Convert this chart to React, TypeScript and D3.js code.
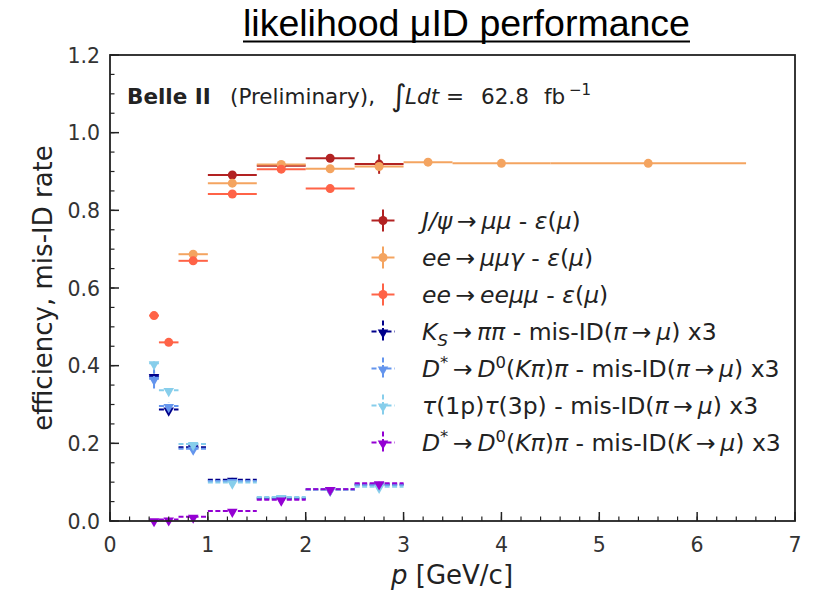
import React from "react";
import * as d3 from "d3";

// ---------- data ----------
const xTicks = [0, 1, 2, 3, 4, 5, 6, 7];
const yTicks = [0.0, 0.2, 0.4, 0.6, 0.8, 1.0, 1.2];

// bins (low, high) in GeV/c
const binLo = [0.4, 0.5, 0.7, 1.0, 1.5, 2.0, 2.5, 3.0, 3.5, 4.5];
const binHi = [0.5, 0.7, 1.0, 1.5, 2.0, 2.5, 3.0, 3.5, 4.5, 6.5];
const binMid = [0.45, 0.6, 0.85, 1.25, 1.75, 2.25, 2.75, 3.25, 4.0, 5.5];

// J/psi -> mu mu efficiency (bins 3..6)
const jpsiBins = [3, 4, 5, 6];
const jpsiY = [0.891, 0.915, 0.934, 0.919];
const jpsiErr = [0.008, 0.006, 0.006, 0.025];

// ee -> mu mu gamma efficiency (bins 2..9)
const mmgBins = [2, 3, 4, 5, 6, 7, 8, 9];
const mmgY = [0.687, 0.87, 0.918, 0.907, 0.913, 0.924, 0.921, 0.921];
const mmgErr = [0.004, 0.003, 0.003, 0.003, 0.003, 0.002, 0.002, 0.002];

// ee -> ee mu mu efficiency (bins 0..5)
const eemmBins = [0, 1, 2, 3, 4, 5];
const eemmY = [0.529, 0.46, 0.67, 0.842, 0.906, 0.856];
const eemmErr = [0.006, 0.005, 0.006, 0.004, 0.004, 0.006];

// mis-ID x3 series (bins 0..6)
const misBins = [0, 1, 2, 3, 4, 5, 6];
const ksY = [0.373, 0.287, 0.19, 0.106, 0.058, 0.081, 0.094];
const ksErr = [0.012, 0.008, 0.006, 0.005, 0.004, 0.004, 0.005];
const dpiY = [0.366, 0.296, 0.186, 0.103, 0.06, 0.082, 0.093];
const dpiErr = [0.025, 0.01, 0.008, 0.005, 0.004, 0.004, 0.005];
const tauY = [0.406, 0.337, 0.198, 0.099, 0.062, 0.08, 0.088];
const tauErr = [0.005, 0.005, 0.005, 0.004, 0.004, 0.004, 0.005];
const dkY = [0.002, 0.004, 0.011, 0.026, 0.055, 0.082, 0.097];
const dkErr = [0.002, 0.002, 0.002, 0.002, 0.003, 0.003, 0.004];

type Seg = [string, string?];
const AR = "\u2009→\u2009";
const legendLabels: Seg[][] = [
  [["J/ψ", "i"], [AR], ["μμ", "i"], [" - "], ["ε", "i"], ["("], ["μ", "i"], [")"]],
  [["ee", "i"], [AR], ["μμγ", "i"], [" - "], ["ε", "i"], ["("], ["μ", "i"], [")"]],
  [["ee", "i"], [AR], ["eeμμ", "i"], [" - "], ["ε", "i"], ["("], ["μ", "i"], [")"]],
  [["K", "i"], ["S", "sub"], [AR], ["ππ", "i"], [" - mis-ID("], ["π", "i"], [AR], ["μ", "i"], [") x3"]],
  [["D", "i"], ["*", "sup"], [AR], ["D", "i"], ["0", "sup"], ["("], ["Kπ", "i"], [")"], ["π", "i"], [" - mis-ID("], ["π", "i"], [AR], ["μ", "i"], [") x3"]],
  [["τ", "i"], ["(1p)"], ["τ", "i"], ["(3p) - mis-ID("], ["π", "i"], [AR], ["μ", "i"], [") x3"]],
  [["D", "i"], ["*", "sup"], [AR], ["D", "i"], ["0", "sup"], ["("], ["Kπ", "i"], [")"], ["π", "i"], [" - mis-ID("], ["K", "i"], [AR], ["μ", "i"], [") x3"]],
];

const seriesColors = ["#b22222", "#f4a460", "#ff6347", "#00008b", "#6495ed", "#87ceeb", "#9400d3"];

// ---------- layout ----------
const W = 818, H = 591;
const x = d3.scaleLinear().domain([0, 7]).range([110, 795]);
const y = d3.scaleLinear().domain([0, 1.2]).range([521, 55]);
const FONT = "DejaVu Sans";

type Pt = { mid: number; lo: number; hi: number; v: number; e: number };
const mk = (bins: number[], ys: number[], es: number[]): Pt[] =>
  bins.map((b, i) => ({ mid: binMid[b], lo: binLo[b], hi: binHi[b], v: ys[i], e: es[i] }));

const series = [
  { pts: mk(jpsiBins, jpsiY, jpsiErr), dashed: false },
  { pts: mk(mmgBins, mmgY, mmgErr), dashed: false },
  { pts: mk(eemmBins, eemmY, eemmErr), dashed: false },
  { pts: mk(misBins, ksY, ksErr), dashed: true },
  { pts: mk(misBins, dpiY, dpiErr), dashed: true },
  { pts: mk(misBins, tauY, tauErr), dashed: true },
  { pts: mk(misBins, dkY, dkErr), dashed: true },
];

const tri = d3.symbol().type(d3.symbolTriangle).size(48)() as string;

function Marker({ cx, cy, color, dashed }: { cx: number; cy: number; color: string; dashed: boolean }) {
  if (dashed)
    return <path d={tri} transform={`translate(${cx},${cy + 1}) rotate(180)`} fill={color} />;
  return <circle cx={cx} cy={cy} r={4.5} fill={color} />;
}

function renderSegs(segs: Seg[], size: number) {
  let shift = 0; // current baseline offset
  return segs.map(([t, s], k) => {
    let target = 0;
    if (s === "sub") target = size * 0.25;
    if (s === "sup") target = -size * 0.38;
    const dy = target - shift;
    shift = target;
    return (
      <tspan
        key={k}
        dy={dy !== 0 ? dy : undefined}
        fontStyle={s === "i" || s === "sub" ? "italic" : "normal"}
        fontSize={s === "sub" || s === "sup" ? size * 0.7 : size}
      >
        {t}
      </tspan>
    );
  });
}

export default function App() {
  const minorX = d3.range(0, 7.0001, 0.2);
  const minorY = d3.range(0, 1.2001, 0.05);
  const legX = 383, legY0 = 220.5, legDy = 37;
  const legSize = 23.5;

  return (
    <svg width={W} height={H} style={{ position: "absolute", left: 0, top: 0, background: "#fff" }}>
      {/* title */}
      <text
        x={243}
        y={36}
        textLength={447}
        lengthAdjust="spacingAndGlyphs"
        fontFamily="Liberation Sans"
        fontSize={36}
        fill="#000"
      >
        likelihood μID performance
      </text>
      <line x1={243} x2={690} y1={41.5} y2={41.5} stroke="#000" strokeWidth={1.8} />

      {/* data */}
      {series.map((s, si) => (
        <g key={si} stroke={seriesColors[si]} strokeWidth={2} strokeDasharray={s.dashed ? "5,2.5" : undefined}>
          {s.pts.map((p, i) => (
            <g key={i}>
              <line x1={x(p.lo)} x2={x(p.hi)} y1={y(p.v)} y2={y(p.v)} />
              <line x1={x(p.mid)} x2={x(p.mid)} y1={y(p.v - p.e)} y2={y(p.v + p.e)} />
            </g>
          ))}
          <g stroke="none">
            {s.pts.map((p, i) => (
              <Marker key={i} cx={x(p.mid)} cy={y(p.v)} color={seriesColors[si]} dashed={s.dashed} />
            ))}
          </g>
        </g>
      ))}

      {/* frame */}
      <rect x={110} y={55} width={685} height={466} fill="none" stroke="#222" strokeWidth={1.8} />
      {/* ticks */}
      <g stroke="#222" strokeWidth={1.2}>
        {minorX.map((t, i) => (
          <line key={"mx" + i} x1={x(t)} x2={x(t)} y1={521} y2={516.5} />
        ))}
        {xTicks.map((t, i) => (
          <line key={"Mx" + i} x1={x(t)} x2={x(t)} y1={521} y2={512} strokeWidth={1.5} />
        ))}
        {minorY.map((t, i) => (
          <line key={"my" + i} x1={110} x2={114.5} y1={y(t)} y2={y(t)} />
        ))}
        {yTicks.map((t, i) => (
          <line key={"My" + i} x1={110} x2={119} y1={y(t)} y2={y(t)} strokeWidth={1.5} />
        ))}
      </g>
      {/* tick labels */}
      <g fontFamily={FONT} fontSize={20.5} fill="#333">
        {xTicks.map((t, i) => (
          <text key={i} x={x(t)} y={552} textAnchor="middle">
            {d3.format("d")(t)}
          </text>
        ))}
        {yTicks.map((t, i) => (
          <text key={i} x={100} y={y(t) + 7.5} textAnchor="end">
            {d3.format(".1f")(t)}
          </text>
        ))}
      </g>
      {/* axis labels */}
      <text x={452} y={584} textAnchor="middle" fontFamily={FONT} fontSize={26} fill="#222">
        <tspan fontStyle="italic">p</tspan> [GeV/c]
      </text>
      <text
        transform={`translate(52,${y(0.6)}) rotate(-90)`}
        textAnchor="middle"
        fontFamily={FONT}
        fontSize={26}
        fill="#222"
      >
        efficiency, mis-ID rate
      </text>

      {/* Belle II annotation */}
      <text y={104} fontFamily={FONT} fontSize={21.5} fill="#222">
        <tspan x={127} fontWeight="bold">Belle II</tspan>
        <tspan x={230}>(Preliminary),</tspan>
        <tspan x={391} fontSize={30} dy={2}>∫</tspan>
        <tspan x={405} dy={-2} fontStyle="italic">Ldt</tspan>
        <tspan x={446}>=</tspan>
        <tspan x={481}>62.8</tspan>
        <tspan x={544}>fb</tspan>
        <tspan x={569} fontSize={15} dy={-9}>−1</tspan>
      </text>

      {/* legend */}
      {legendLabels.map((segs, i) => {
        const cy = legY0 + i * legDy;
        const dashed = i >= 3;
        const c = seriesColors[i];
        return (
          <g key={i}>
            <g stroke={c} strokeWidth={2} strokeDasharray={dashed ? "5,2.5" : undefined}>
              <line x1={legX - 11.5} x2={legX + 11.5} y1={cy} y2={cy} />
              <line x1={legX} x2={legX} y1={cy - 11} y2={cy + 11} />
            </g>
            <Marker cx={legX} cy={cy} color={c} dashed={dashed} />
            <text x={422} y={cy + 8.5} fontFamily={FONT} fontSize={legSize} fill="#222">
              {renderSegs(segs, legSize)}
            </text>
          </g>
        );
      })}
    </svg>
  );
}
